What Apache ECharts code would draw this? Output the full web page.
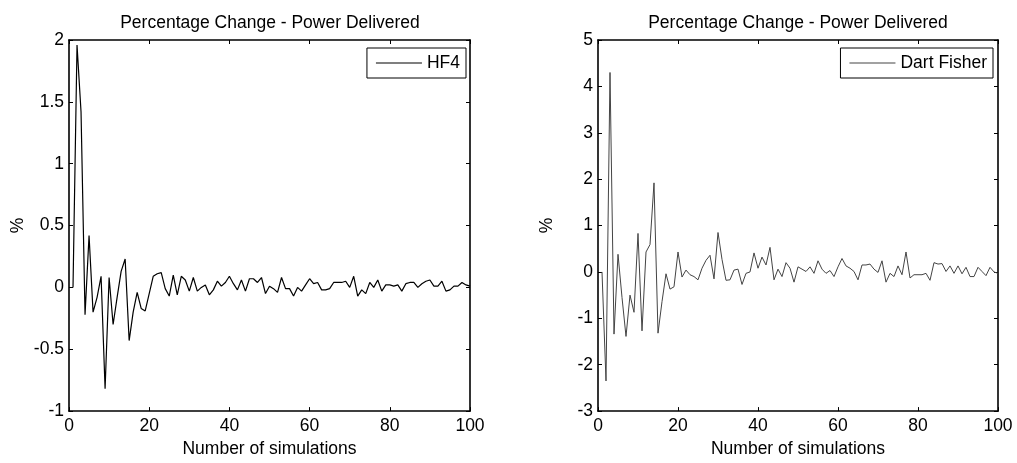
<!DOCTYPE html>
<html>
<head>
<meta charset="utf-8">
<script src="https://cdn.jsdelivr.net/npm/echarts@6/dist/echarts.min.js"></script>
<style>
  html, body { margin: 0; padding: 0; background: #fff; }
  #chart { width: 1017px; height: 463px; }
</style>
</head>
<body>
<div id="chart"></div>
<script>
// percentage change per simulation
var hf4Pct = [
    0, 1.96, 1.42, -0.22, 0.42, -0.2, -0.08, 0.09, -0.82, 0.08,
    -0.3, -0.08, 0.13, 0.23, -0.43, -0.2, -0.04, -0.17, -0.19, -0.05,
    0.09, 0.11, 0.12, -0.01, -0.07, 0.1, -0.06, 0.09, 0.06, -0.03,
    0.08, -0.03, 0, 0.02, -0.06, -0.02, 0.05, 0.01, 0.04, 0.09,
    0.03, -0.02, 0.06, -0.03, 0.07, 0.07, 0.04, 0.08, -0.05, 0.01,
    -0.01, -0.04, 0.08, -0.01, -0.01, -0.07, 0, -0.03, 0.02, 0.07,
    0.03, 0.04, -0.02, -0.02, -0.01, 0.04, 0.04, 0.04, 0.05, 0,
    0.09, -0.07, -0.02, -0.05, 0.04, 0, 0.06, -0.03, 0.02, 0.02,
    0.01, 0.02, -0.03, 0.03, 0.04, 0.04, 0, 0.03, 0.05, 0.06,
    0.01, 0.01, 0.05, -0.03, -0.02, 0.01, 0.01, 0.04, 0.02, 0.01
];
var dartFisherPct = [
    0, -2.35, 4.3, -1.34, 0.38, -0.55, -1.39, -0.5, -0.87, 0.83,
    -1.27, 0.43, 0.59, 1.92, -1.32, -0.64, -0.04, -0.37, -0.32, 0.43,
    -0.11, 0.04, -0.06, -0.1, -0.17, 0.08, 0.25, 0.36, -0.15, 0.85,
    0.27, -0.18, -0.17, 0.04, 0.06, -0.27, -0.03, 0, 0.41, 0.08,
    0.32, 0.15, 0.53, -0.17, 0.06, -0.1, 0.2, 0.08, -0.22, 0.11,
    0.06, 0.01, 0.11, -0.03, 0.24, 0.06, -0.03, 0.03, -0.1, 0.11,
    0.29, 0.13, 0.08, 0.01, -0.17, 0.15, 0.15, 0.17, 0.06, -0.01,
    0.24, -0.22, -0.03, -0.1, 0.13, -0.06, 0.43, -0.13, -0.06, -0.06,
    -0.06, -0.03, -0.18, 0.2, 0.17, 0.18, 0.01, 0.13, -0.03, 0.13,
    -0.04, 0.1, -0.1, -0.1, 0.1, 0.01, -0.08, 0.1, 0, -0.03
];
var seriesNames = ['HF4', 'Dart Fisher'];
var chartTitle = 'Percentage Change - Power Delivered';
var xName = 'Number of simulations';
var yName = '%';

var font = 'Liberation Sans, Arial, sans-serif';
var fs = 17.5;

function toPairs(arr) {
    return arr.map(function (v, i) { return [i + 1, v]; });
}

// bottom/left axes carry labels, top/right are just the box with ticks
function xAxes(gi) {
    var base = {
        type: 'value', gridIndex: gi, min: 0, max: 100, interval: 20,
        splitLine: { show: false },
        axisLine: { onZero: false, lineStyle: { color: '#000', width: 1.6 } },
        axisTick: { inside: true, length: 4, lineStyle: { color: '#000' } }
    };
    return [
        Object.assign({}, base, {
            position: 'bottom',
            axisLabel: { color: '#000', fontSize: fs, fontFamily: font, margin: 6 },
            name: xName, nameLocation: 'middle', nameGap: 25,
            nameTextStyle: { color: '#000', fontSize: fs, fontFamily: font }
        }),
        Object.assign({}, base, { position: 'top', axisLabel: { show: false } })
    ];
}

function yAxes(gi, min, max, step) {
    var base = {
        type: 'value', gridIndex: gi, min: min, max: max, interval: step,
        splitLine: { show: false },
        axisLine: { onZero: false, lineStyle: { color: '#000', width: 1.6 } },
        axisTick: { inside: true, length: 4, lineStyle: { color: '#000' } }
    };
    return [
        Object.assign({}, base, {
            position: 'left',
            axisLabel: { color: '#000', fontSize: fs, fontFamily: font, margin: 5 },
            name: yName, nameLocation: 'middle', nameGap: 42,
            nameTextStyle: { color: '#000', fontSize: fs, fontFamily: font }
        }),
        Object.assign({}, base, { position: 'right', axisLabel: { show: false } })
    ];
}

var myChart = echarts.init(document.getElementById('chart'), null, { renderer: 'canvas' });

var legendBase = {
    top: 48, orient: 'horizontal', icon: 'rect',
    borderColor: '#000', borderWidth: 1, backgroundColor: '#fff',
    padding: [6, 6, 6, 9], itemWidth: 46, itemHeight: 1.2,
    textStyle: { color: '#000', fontSize: fs, fontFamily: font }
};

var option = {
    animation: false,
    backgroundColor: '#fff',
    title: [
        { text: chartTitle, left: 270, top: 14, textAlign: 'center', padding: 0,
          textStyle: { color: '#000', fontSize: fs, fontWeight: 'normal', fontFamily: font } },
        { text: chartTitle, left: 798, top: 14, textAlign: 'center', padding: 0,
          textStyle: { color: '#000', fontSize: fs, fontWeight: 'normal', fontFamily: font } }
    ],
    legend: [
        Object.assign({}, legendBase, { right: 551, data: [seriesNames[0]] }),
        Object.assign({}, legendBase, { right: 24, data: [seriesNames[1]] })
    ],
    grid: [
        { left: 69, top: 40, width: 401, height: 381 },
        { left: 598, top: 40, width: 400, height: 381 }
    ],
    xAxis: xAxes(0).concat(xAxes(1)),
    yAxis: yAxes(0, -1, 2, 0.5).concat(yAxes(1, -3, 5, 1)),
    series: [
        {
            name: seriesNames[0], type: 'line', xAxisIndex: 0, yAxisIndex: 0,
            data: toPairs(hf4Pct), symbol: 'none', showSymbol: false,
            lineStyle: { color: '#000', width: 1.2 }, itemStyle: { color: '#000' }
        },
        {
            name: seriesNames[1], type: 'line', xAxisIndex: 2, yAxisIndex: 2,
            data: toPairs(dartFisherPct), symbol: 'none', showSymbol: false,
            lineStyle: { color: '#444', width: 1 }, itemStyle: { color: '#444' }
        }
    ]
};

myChart.setOption(option);
</script>
</body>
</html>
